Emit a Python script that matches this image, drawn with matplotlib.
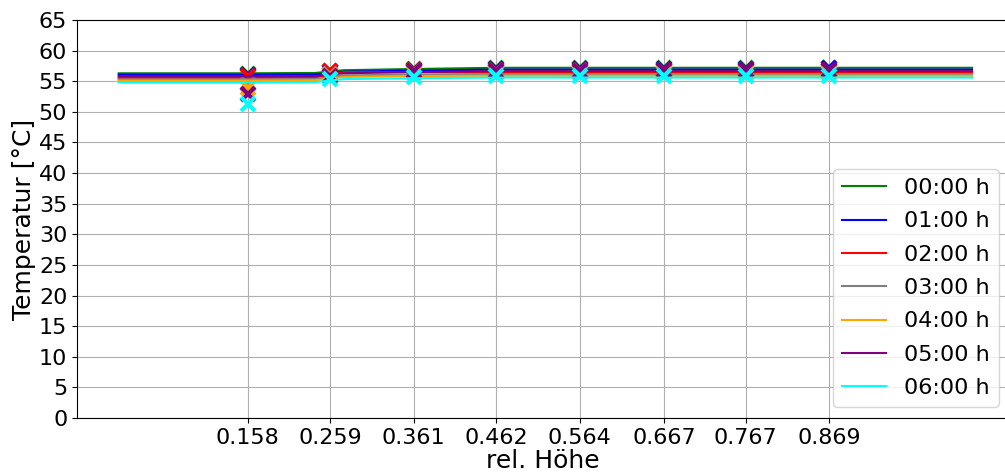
import matplotlib
matplotlib.use("Agg")
import matplotlib.pyplot as plt

plt.rcParams.update({
    "font.size": 16,
    "axes.labelsize": 18,
    "xtick.labelsize": 16,
    "ytick.labelsize": 16,
    "legend.fontsize": 16,
})

# sensor positions (rel. height)
sensor_x = [0.158, 0.259, 0.361, 0.462, 0.564, 0.667, 0.767, 0.869]
hours = ["00:00 h", "01:00 h", "02:00 h", "03:00 h", "04:00 h", "05:00 h", "06:00 h"]
colors = ["green", "blue", "red", "grey", "orange", "purple", "cyan"]

# measured temperatures at the sensors
meas_00 = [56.2, 56.6, 57.0, 57.1, 57.1, 57.2, 57.2, 57.2]
meas_01 = [56.1, 56.5, 56.9, 57.0, 57.0, 57.0, 57.0, 57.1]
meas_02 = [55.9, 56.6, 56.8, 56.8, 56.8, 56.8, 56.8, 56.8]
meas_03 = [54.5, 56.2, 56.6, 56.6, 56.6, 56.6, 56.6, 56.6]
meas_04 = [53.9, 56.0, 56.3, 56.3, 56.3, 56.3, 56.3, 56.3]
meas_05 = [52.9, 55.9, 56.6, 56.7, 56.7, 56.8, 56.8, 56.9]
meas_06 = [51.3, 55.4, 55.7, 55.8, 55.8, 55.8, 55.8, 55.8]
measured = [meas_00, meas_01, meas_02, meas_03, meas_04, meas_05, meas_06]

# profile lines
line_x = [0.0, 0.158, 0.24, 0.275, 0.361, 0.462, 0.564, 0.667, 0.767, 0.869, 1.044]
line_00 = [56.3, 56.3, 56.35, 56.8, 57.0, 57.2, 57.2, 57.2, 57.2, 57.2, 57.2]
line_01 = [56.05, 56.05, 56.1, 56.55, 56.75, 56.9, 56.9, 56.9, 56.9, 56.9, 56.9]
line_02 = [55.55, 55.55, 55.6, 56.5, 56.5, 56.4, 56.4, 56.4, 56.4, 56.4, 56.4]
line_03 = [55.3, 55.3, 55.35, 55.95, 56.1, 56.15, 56.15, 56.15, 56.15, 56.15, 56.15]
line_04 = [55.1, 55.1, 55.15, 55.7, 55.85, 55.9, 55.9, 55.9, 55.9, 55.9, 55.9]
line_05 = [55.8, 55.8, 55.85, 56.3, 56.5, 56.65, 56.65, 56.65, 56.65, 56.65, 56.65]
line_06 = [54.8, 54.8, 54.85, 55.35, 55.5, 55.6, 55.6, 55.6, 55.6, 55.6, 55.6]
lines = [line_00, line_01, line_02, line_03, line_04, line_05, line_06]

fig = plt.figure(figsize=(10.05, 4.72), dpi=100)
ax = fig.add_axes([0.0766, 0.1144, 0.928, 0.8432])

for h, c, ly, my in zip(hours, colors, lines, measured):
    ax.plot(line_x, ly, color=c, lw=1.5, label=h)
    ax.plot(sensor_x, my, ls="none", marker="x", ms=10, mew=3, color=c)

ax.set_xlim(-0.051, 1.09)
ax.set_ylim(0, 65)
ax.set_xticks(sensor_x)
ax.set_xticklabels([f"{v:.3f}" for v in sensor_x])
ax.set_yticks(range(0, 66, 5))
ax.grid(True)
ax.set_xlabel("rel. Höhe", labelpad=1)
ax.set_ylabel("Temperatur [°C]", labelpad=2)
ax.legend(loc="lower right", labelspacing=0.6)

fig.savefig("out.png", dpi=100)
